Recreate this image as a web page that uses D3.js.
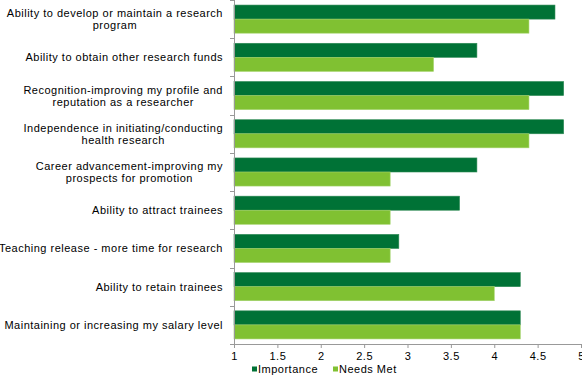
<!DOCTYPE html>
<html>
<head>
<meta charset="utf-8">
<script src="https://cdn.jsdelivr.net/npm/d3@7/dist/d3.min.js"></script>
<style>
  body { margin: 0; background: #fff; }
  text { font-family: "Liberation Sans", Arial, sans-serif; font-size: 11px; fill: #000; letter-spacing: 0.5px; }
</style>
</head>
<body>
<svg id="chart" width="582" height="384"></svg>
<script>
// categories, top to bottom; each label split into its lines
var categories = [
  ['Ability to develop or maintain a research', 'program'],
  ['Ability to obtain other research funds'],
  ['Recognition-improving my profile and', 'reputation as a researcher'],
  ['Independence in initiating/conducting', 'health research'],
  ['Career advancement-improving my', 'prospects for promotion'],
  ['Ability to attract trainees'],
  ['Teaching release - more time for research'],
  ['Ability to retain trainees'],
  ['Maintaining or increasing my salary level']
];
var importance = [4.7, 3.8, 4.8, 4.8, 3.8, 3.6, 2.9, 4.3, 4.3];
var needsMet   = [4.4, 3.3, 4.4, 4.4, 2.8, 2.8, 2.8, 4.0, 4.3];
var seriesNames = ['Importance', 'Needs Met'];
var xTicks = [1, 1.5, 2, 2.5, 3, 3.5, 4, 4.5, 5];

var colors = ['#007236', '#80c132'];
var svg = d3.select('#chart');

var margin = { left: 234, right: 1, top: 0, bottom: 40 };
var width = 582 - margin.left - margin.right;
var height = 384 - margin.top - margin.bottom;

var g = svg.append('g').attr('transform', 'translate(' + margin.left + ',' + margin.top + ')');

var x = d3.scaleLinear().domain([1, 5]).range([0, width]);
var y = d3.scaleBand().domain(d3.range(categories.length)).range([0, height]);
var inner = d3.scaleBand().domain([0, 1]).range([0, y.bandwidth()]).paddingOuter(0.36).paddingInner(0);

var rows = categories.map(function(c, i) {
  return { i: i, values: [importance[i], needsMet[i]] };
});

// bars
var groups = g.selectAll('g.row')
  .data(rows)
  .enter().append('g')
  .attr('class', 'row')
  .attr('transform', function(d) { return 'translate(0,' + y(d.i) + ')'; });

groups.selectAll('rect')
  .data(function(d) { return d.values.map(function(v, k) { return { k: k, v: v }; }); })
  .enter().append('rect')
  .attr('x', 0)
  .attr('y', function(d) { return inner(d.k); })
  .attr('width', function(d) { return x(d.v) - x(1); })
  .attr('height', inner.bandwidth())
  .attr('fill', function(d) { return colors[d.k]; })
  .attr('stroke', function(d) { return d.k === 0 ? '#2e8a55' : '#a3d36b'; })
  .attr('stroke-width', 0.6);

// x axis
var xAxis = g.append('g')
  .attr('transform', 'translate(0,' + height + ')')
  .call(d3.axisBottom(x).tickValues(xTicks).tickSize(4).tickPadding(4).tickFormat(d3.format('')));
xAxis.select('.domain').attr('stroke', '#999');
xAxis.selectAll('.tick line').attr('stroke', '#999');
xAxis.selectAll('text').style('font-size', '11px').attr('fill', '#000');

// y axis line and ticks between categories
g.append('line')
  .attr('x1', 0.5).attr('x2', 0.5)
  .attr('y1', 0).attr('y2', height)
  .attr('stroke', '#999');
g.selectAll('line.ytick')
  .data(d3.range(categories.length + 1))
  .enter().append('line')
  .attr('class', 'ytick')
  .attr('x1', -4).attr('x2', 0)
  .attr('y1', function(d) { return Math.round(d * y.step()) + 0.5; })
  .attr('y2', function(d) { return Math.round(d * y.step()) + 0.5; })
  .attr('stroke', '#999');

// category labels
var labels = g.selectAll('text.cat')
  .data(categories)
  .enter().append('text')
  .attr('class', 'cat')
  .attr('text-anchor', 'middle')
  .attr('x', -117)
  .attr('y', function(d, i) { return y(i) + y.bandwidth() / 2; });

labels.selectAll('tspan')
  .data(function(d) { return d.map(function(line, j) { return { line: line, j: j, n: d.length }; }); })
  .enter().append('tspan')
  .attr('x', -117)
  .attr('dy', function(d) {
    if (d.j > 0) return 12;
    return (4 - (d.n - 1) * 6);
  })
  .text(function(d) { return d.line; });

// right-align each label block, lines centred on the widest one
labels.each(function() {
  var t = d3.select(this);
  var bbox = this.getBBox();
  var right = -11;
  var shift = right - (bbox.x + bbox.width);
  t.selectAll('tspan').attr('x', -117 + shift);
});

// legend
var legend = svg.append('g').attr('transform', 'translate(252,369)');
var items = legend.selectAll('g')
  .data(seriesNames)
  .enter().append('g')
  .attr('transform', function(d, i) { return 'translate(' + (i * 81) + ',0)'; });
items.append('rect')
  .attr('x', 0).attr('y', -2.5)
  .attr('width', 5).attr('height', 5)
  .attr('fill', function(d, i) { return colors[i]; });
items.append('text')
  .attr('x', 6).attr('y', 4)
  .text(function(d) { return d; });
</script>
</body>
</html>
